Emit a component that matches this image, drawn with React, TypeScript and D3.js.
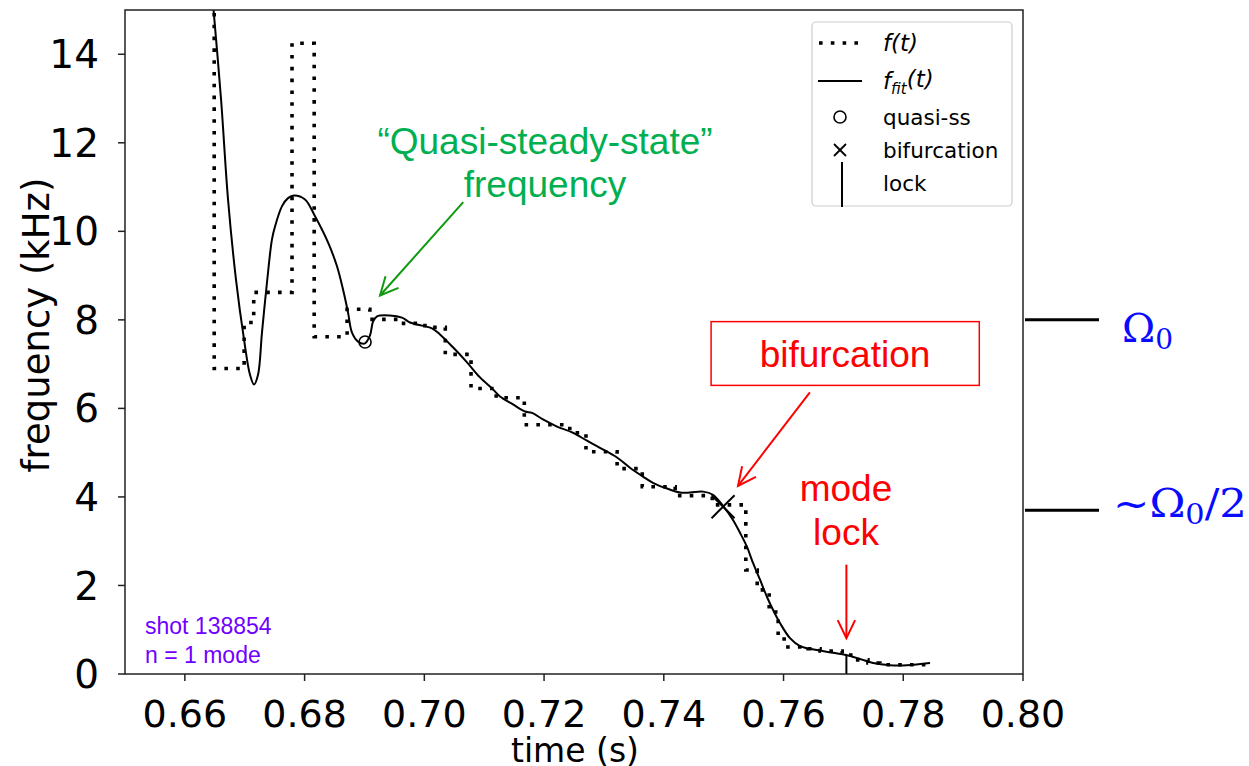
import React from "react";
import * as d3 from "d3";

// f(t): measured step frequency (kHz) — [time (s), level from that time]
const stepTimes = [0.6649, 0.6649, 0.6699, 0.6715, 0.6779, 0.6816, 0.6871, 0.6909, 0.6959, 0.7001, 0.7035, 0.7078, 0.712, 0.7167, 0.7243, 0.727, 0.7322, 0.7364, 0.7419, 0.7481, 0.7537, 0.7556, 0.7576, 0.7591, 0.7601, 0.7641, 0.7661, 0.7698, 0.7719, 0.7741, 0.7761, 0.7848];
const stepFreqs = [16, 6.9, 7.94, 8.62, 14.25, 7.62, 8.24, 8.01, 7.92, 7.83, 7.22, 6.45, 6.24, 5.63, 5.45, 5.02, 4.64, 4.23, 4.03, 3.82, 2.35, 1.9, 1.4, 0.84, 0.61, 0.57, 0.52, 0.43, 0.32, 0.25, 0.21, 0.21];

// f_fit(t)
const fitTimes = [0.6646, 0.66604, 0.66721, 0.66854, 0.66988, 0.67088, 0.67155, 0.67222, 0.67288, 0.67372, 0.67455, 0.67506, 0.67623, 0.67723, 0.67823, 0.68007, 0.68174, 0.68391, 0.68541, 0.68641, 0.68725, 0.68792, 0.68892, 0.69009, 0.69093, 0.69143, 0.6921, 0.69427, 0.69627, 0.69761, 0.69961, 0.70128, 0.70262, 0.70479, 0.70713, 0.7093, 0.71147, 0.71264, 0.71481, 0.71682, 0.71799, 0.71982, 0.72216, 0.72483, 0.72717, 0.72934, 0.73218, 0.73435, 0.73652, 0.73819, 0.74053, 0.7427, 0.74437, 0.74654, 0.74821, 0.74988, 0.75156, 0.75273, 0.7539, 0.7549, 0.75607, 0.75724, 0.75824, 0.75941, 0.76108, 0.76276, 0.7656, 0.76827, 0.77044, 0.77278, 0.77495, 0.77779, 0.78063, 0.78447];
const fitFreqs = [15.3, 12.99, 10.72, 8.91, 7.56, 6.76, 6.54, 6.76, 7.71, 8.85, 9.82, 10.11, 10.57, 10.75, 10.81, 10.72, 10.34, 9.75, 9.21, 8.69, 8.17, 7.71, 7.51, 7.47, 7.65, 7.96, 8.08, 8.1, 8.05, 7.94, 7.87, 7.81, 7.67, 7.38, 7.04, 6.7, 6.43, 6.27, 6.09, 5.93, 5.9, 5.75, 5.59, 5.45, 5.27, 5.11, 4.89, 4.66, 4.46, 4.32, 4.19, 4.1, 4.1, 4.12, 4.05, 3.8, 3.48, 3.19, 2.87, 2.51, 2.13, 1.74, 1.45, 1.15, 0.81, 0.63, 0.54, 0.48, 0.43, 0.34, 0.25, 0.2, 0.2, 0.25];

const quasiSS = { t: 0.6901, f: 7.5 };
const bifurcation = { t: 0.7499, f: 3.78 };
const lock = { t: 0.7705, f: 0.43 };

const xTicks = [0.66, 0.68, 0.7, 0.72, 0.74, 0.76, 0.78, 0.8];
const yTicks = [0, 2, 4, 6, 8, 10, 12, 14];

const W = 1249, H = 766;
const M = { left: 125, top: 10, right: 1023, bottom: 674 };

export default function App() {
  const x = d3.scaleLinear().domain([0.65, 0.8]).range([M.left, M.right]);
  const y = d3.scaleLinear().domain([0, 15]).range([M.bottom, M.top]);

  const stepLine = d3.line<number>().x((_, i) => x(stepTimes[i])).y((_, i) => y(stepFreqs[i])).curve(d3.curveStepAfter);
  const fitLine = d3.line<number>().x((_, i) => x(fitTimes[i])).y((_, i) => y(fitFreqs[i])).curve(d3.curveCatmullRom.alpha(0.5));

  const tickFont = "DejaVu Sans";
  const annFont = "Liberation Sans, Arial, sans-serif";

  const arrow = (x1: number, y1: number, x2: number, y2: number, color: string, head = 20, w = 2) => {
    const a = Math.atan2(y2 - y1, x2 - x1);
    const s = 0.45;
    const hx1 = x2 - head * Math.cos(a - s), hy1 = y2 - head * Math.sin(a - s);
    const hx2 = x2 - head * Math.cos(a + s), hy2 = y2 - head * Math.sin(a + s);
    return (
      <g stroke={color} strokeWidth={w} fill="none">
        <line x1={x1} y1={y1} x2={x2} y2={y2} />
        <polyline points={`${hx1},${hy1} ${x2},${y2} ${hx2},${hy2}`} />
      </g>
    );
  };

  const bx = x(bifurcation.t), by = y(bifurcation.f);
  const xs = 11.5;

  return (
    <svg width={W} height={H} style={{ position: "absolute", left: 0, top: 0, background: "#fff" }}>
      <defs>
        <clipPath id="plot">
          <rect x={M.left} y={M.top} width={M.right - M.left} height={M.bottom - M.top} />
        </clipPath>
      </defs>

      {/* data */}
      <g clipPath="url(#plot)">
        <path d={stepLine(stepTimes) || ""} fill="none" stroke="#000" strokeWidth={3.6} strokeDasharray="3.6,8.2" />
        <path d={fitLine(fitTimes) || ""} fill="none" stroke="#000" strokeWidth={2} />
        <circle cx={x(quasiSS.t)} cy={y(quasiSS.f)} r={6} fill="none" stroke="#000" strokeWidth={1.6} />
        <g stroke="#000" strokeWidth={2}>
          <line x1={bx - xs} y1={by - xs} x2={bx + xs} y2={by + xs} />
          <line x1={bx - xs} y1={by + xs} x2={bx + xs} y2={by - xs} />
        </g>
        <line x1={x(lock.t)} y1={y(0)} x2={x(lock.t)} y2={y(lock.f)} stroke="#000" strokeWidth={2} />
      </g>

      {/* frame */}
      <rect x={M.left} y={M.top} width={M.right - M.left} height={M.bottom - M.top} fill="none" stroke="#222" strokeWidth={1.5} />

      {/* x axis */}
      {xTicks.map((t) => (
        <g key={"x" + t}>
          <line x1={x(t)} x2={x(t)} y1={M.bottom} y2={M.bottom + 7} stroke="#222" strokeWidth={1.5} />
          <text x={x(t)} y={727} textAnchor="middle" fontFamily={tickFont} fontSize={38} fill="#000">{t.toFixed(2)}</text>
        </g>
      ))}
      <text x={575} y={762} textAnchor="middle" fontFamily={tickFont} fontSize={33} fill="#000">time (s)</text>

      {/* y axis */}
      {yTicks.map((v) => (
        <g key={"y" + v}>
          <line x1={M.left - 7} x2={M.left} y1={y(v)} y2={y(v)} stroke="#222" strokeWidth={1.5} />
          <text x={99} y={y(v)} dy="0.36em" textAnchor="end" fontFamily={tickFont} fontSize={39} fill="#000">{v}</text>
        </g>
      ))}
      <text transform={`translate(49,325) rotate(-90)`} textAnchor="middle" fontFamily={tickFont} fontSize={37} fill="#000">frequency (kHz)</text>

      {/* legend */}
      <g fontFamily={tickFont} fontSize={21.5} fill="#000">
        <rect x={812} y={22} width={200} height={184} rx={4} fill="#fff" fillOpacity={0.8} stroke="#ccc" strokeWidth={1.2} />
        <line x1={819} x2={862} y1={43} y2={43} stroke="#000" strokeWidth={3.6} strokeDasharray="3.6,8.2" />
        <text x={883} y={43} dy="0.36em" fontStyle="italic" fontSize={23}>f(t)</text>
        <line x1={818} x2={862} y1={81} y2={81} stroke="#000" strokeWidth={2} />
        <text x={883} y={81} dy="0.36em" fontStyle="italic" fontSize={23}>f<tspan fontSize={15} dy="0.3em">fit</tspan><tspan dy="-0.3em" fontSize={23}>(t)</tspan></text>
        <circle cx={840} cy={117} r={6} fill="none" stroke="#000" strokeWidth={1.6} />
        <text x={883} y={117} dy="0.36em">quasi-ss</text>
        <g stroke="#000" strokeWidth={1.8}>
          <line x1={834} y1={144} x2={846} y2={156} />
          <line x1={834} y1={156} x2={846} y2={144} />
        </g>
        <text x={883} y={150} dy="0.36em">bifurcation</text>
        <line x1={842} x2={842} y1={162} y2={207} stroke="#000" strokeWidth={2} />
        <text x={883} y={183} dy="0.36em">lock</text>
      </g>

      {/* annotations */}
      <g fontFamily={annFont} fontSize={37} fill="#00B050" textAnchor="middle">
        <text x={545} y={154}>“Quasi-steady-state”</text>
        <text x={545} y={197}>frequency</text>
      </g>
      {arrow(x(0.7065), y(10.66), x(0.6926), y(8.55), "#109A10")}

      <rect x={x(0.7479)} y={y(7.96)} width={x(0.7927) - x(0.7479)} height={y(6.52) - y(7.96)} fill="#fff" stroke="#ff0000" strokeWidth={1.5} />
      <g fontFamily={annFont} fontSize={37} fill="#ff0000" textAnchor="middle">
        <text x={845} y={367}>bifurcation</text>
        <text x={846} y={501}>mode</text>
        <text x={846} y={545}>lock</text>
      </g>
      {arrow(x(0.7644), y(6.36), x(0.7524), y(4.25), "#ff0000")}
      {arrow(x(lock.t), y(2.47), x(lock.t), y(0.81), "#ff0000")}

      <g fontFamily={annFont} fontSize={23} fill="#7000FF">
        <text x={145} y={634}>shot 138854</text>
        <text x={145} y={663}>n = 1 mode</text>
      </g>

      {/* right-side reference marks */}
      <line x1={M.right + 2} x2={1099} y1={y(8)} y2={y(8)} stroke="#000" strokeWidth={3} />
      <line x1={M.right + 2} x2={1099} y1={y(3.7)} y2={y(3.7)} stroke="#000" strokeWidth={3} />
      <g fontFamily="DejaVu Serif, serif" fill="#0a0aff" fontSize={40}>
        <text x={1122} y={y(8) + 22}>Ω<tspan fontSize={28} dy="7">0</tspan></text>
        <text x={1113} y={y(3.7) + 7} textLength={134} lengthAdjust="spacingAndGlyphs">~Ω<tspan fontSize={28} dy="7">0</tspan><tspan dy="-7">/2</tspan></text>
      </g>
    </svg>
  );
}
